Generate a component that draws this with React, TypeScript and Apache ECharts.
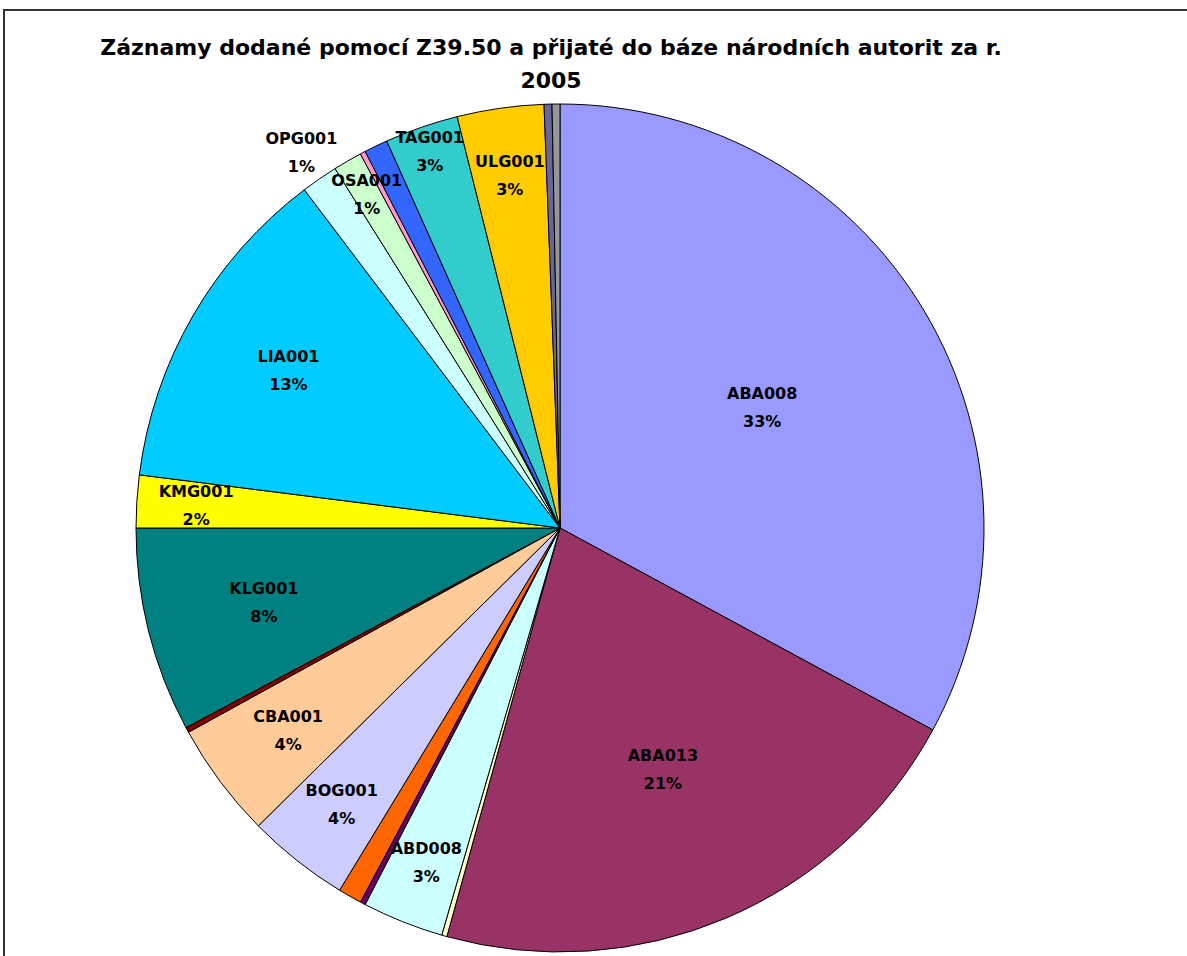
import React, { useEffect, useRef } from "react";
import * as echarts from "echarts";

const titleLines = [
  "Záznamy dodané pomocí Z39.50 a přijaté do báze národních autorit za r.",
  "2005",
];

const sliceNames = [
  "ABA008", "ABA013", "(bez popisku 1)", "ABD008", "(bez popisku 2)", "(bez popisku 3)",
  "BOG001", "CBA001", "(bez popisku 4)", "KLG001", "KMG001", "LIA001",
  "OPG001", "OSA001", "(bez popisku 5)", "(bez popisku 6)", "TAG001", "ULG001",
  "(bez popisku 7)", "(bez popisku 8)",
];

// share of records, in percent
const sliceValues = [
  32.9, 21.4, 0.2, 3.1, 0.2, 0.9,
  3.9, 4.4, 0.2, 7.8, 2.0, 12.7,
  1.4, 1.1, 0.2, 0.9, 2.8, 3.3,
  0.3, 0.3,
];

const sliceColors = [
  "#9999FF", "#993366", "#FFFFCC", "#CCFFFF", "#660066", "#FF6600",
  "#CCCCFF", "#FFCC99", "#800000", "#008080", "#FFFF00", "#00CCFF",
  "#CCFFFF", "#CCFFCC", "#FF99CC", "#3366FF", "#33CCCC", "#FFCC00",
  "#666699", "#969696",
];

const showLabel = [
  true, true, false, true, false, false,
  true, true, false, true, true, true,
  true, true, false, false, true, true,
  false, false,
];

// radial position of each label as a fraction of the radius (style)
const labelRadius = [
  0.555, 0.62, 0, 0.85, 0, 0,
  0.83, 0.8, 0, 0.72, 0.86, 0.74,
  1.075, 0.91, 0, 0, 0.94, 0.84,
  0, 0,
];

const CX = 560;
const CY = 528;
const R = 424;

export default function App() {
  const ref = useRef<HTMLDivElement>(null);

  useEffect(() => {
    if (!ref.current) return;
    const chart = echarts.init(ref.current, undefined, { renderer: "svg" });
    const total = sliceValues.reduce((a, b) => a + b, 0);
    const mids: number[] = [];
    let acc = 0;
    for (const v of sliceValues) {
      mids.push(((acc + v / 2) / total) * Math.PI * 2);
      acc += v;
    }

    chart.setOption({
      animation: false,
      backgroundColor: "#ffffff",
      graphic: [
        {
          type: "rect",
          shape: { x: 4, y: 10, width: 1400, height: 1200 },
          style: { fill: "none", stroke: "#333333", lineWidth: 2 },
          silent: true,
        },
        {
          type: "text",
          x: 551,
          y: 63.5,
          style: {
            text: titleLines.join("\n"),
            textAlign: "center",
            textVerticalAlign: "middle",
            font: 'bold 22px "DejaVu Sans"',
            lineHeight: 33,
            fill: "#000000",
          },
          silent: true,
        },
      ],
      series: [
        {
          type: "pie",
          center: [CX, CY],
          radius: R,
          startAngle: 90,
          clockwise: true,
          avoidLabelOverlap: false,
          emphasis: { disabled: true },
          itemStyle: { borderColor: "#000000", borderWidth: 1 },
          label: {
            position: "inside",
            formatter: (p: any) => `${p.name}\n${Math.round(p.percent)}%`,
            fontFamily: "DejaVu Sans",
            fontWeight: "bold",
            fontSize: 16,
            lineHeight: 28,
            color: "#000000",
          },
          labelLine: { show: false },
          labelLayout: (params: any) => {
            const i = params.dataIndex;
            const a = mids[i];
            const rr = labelRadius[i] * R;
            return {
              x: CX + Math.sin(a) * rr,
              y: CY - Math.cos(a) * rr,
              align: "center",
              verticalAlign: "middle",
              hideOverlap: false,
            };
          },
          data: sliceNames.map((n, i) => ({
            name: n,
            value: sliceValues[i],
            itemStyle: { color: sliceColors[i] },
            label: { show: showLabel[i] },
          })),
        },
      ],
    });
    return () => chart.dispose();
  }, []);

  return (
    <div
      ref={ref}
      style={{ position: "absolute", left: 0, top: 0, width: 1187, height: 956 }}
    />
  );
}
